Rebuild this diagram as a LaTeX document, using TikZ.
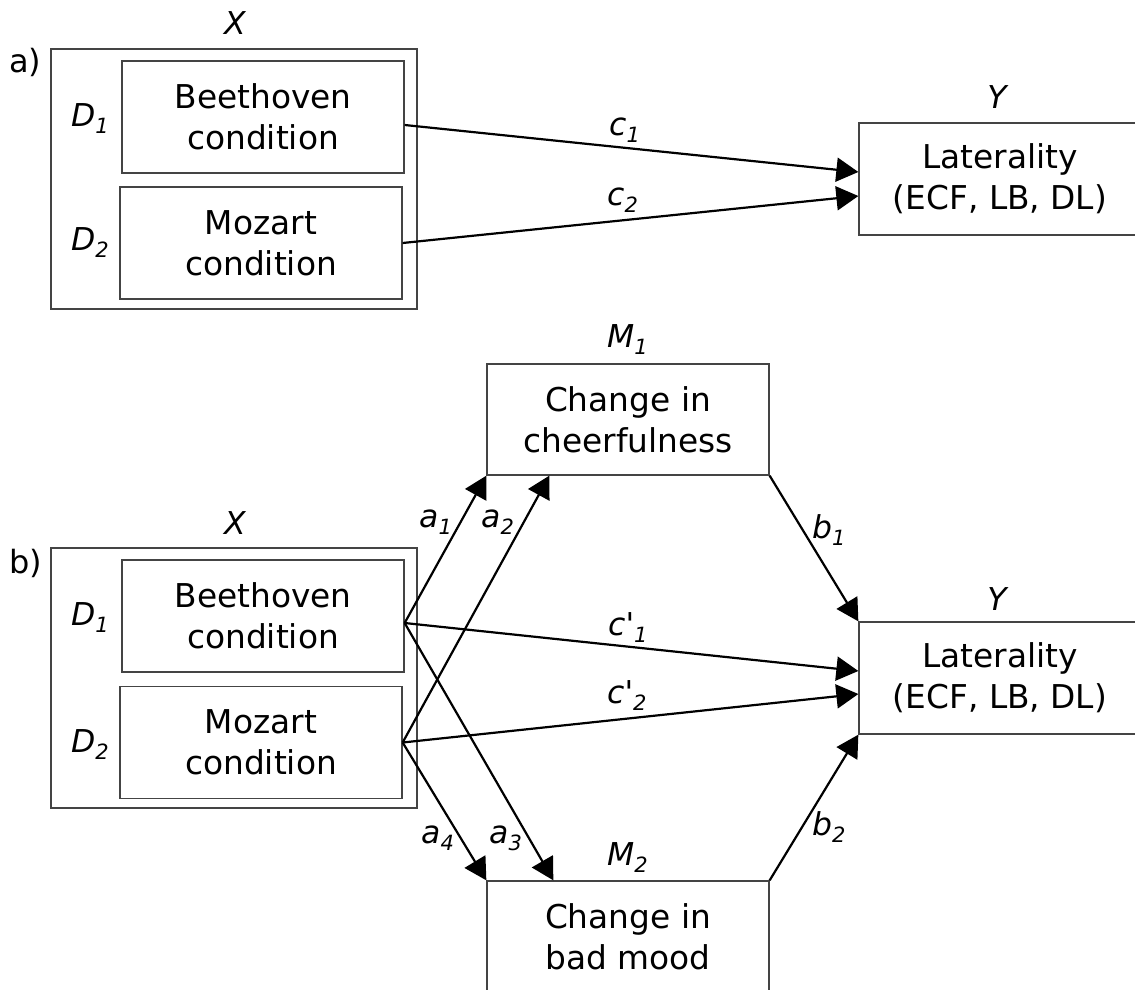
\documentclass[tikz,border=0pt]{standalone}
\usepackage{fontspec}
\setmainfont{DejaVu Sans}
\usetikzlibrary{arrows.meta,calc}
\definecolor{boxgray}{HTML}{444444}
\newcommand\lbl[2]{#1\raisebox{-7pt}{\fontsize{21}{21}\selectfont #2}}
\begin{document}
\begin{tikzpicture}[x=1pt,y=-1pt,
  box/.style={draw=boxgray, line width=1.3pt, minimum width=282pt, minimum height=112pt, align=center, inner sep=0pt, font=\fontsize{32.8}{41}\selectfont},
  frame/.style={draw=boxgray, line width=1.3pt, minimum width=366pt, minimum height=260pt, inner sep=0pt},
  lab/.style={anchor=base west, inner sep=0pt, font=\fontsize{31.5}{31.5}\selectfont\itshape},
  tag/.style={anchor=base west, inner sep=0pt, font=\fontsize{32}{32}\selectfont},
  arr/.style={line width=2.2pt, -{Triangle[length=22pt,width=24pt]}},
]
\useasboundingbox (0,0) rectangle (1135,990);
\clip (0,0) rectangle (1135,990);

% ---------- panel a ----------
\node[tag] (taga) at (9,73) {a)};
\node[frame] (Xa) at (234,179) {};
\node[box] (Ba) at (263,117) {Beethoven\\condition};
\node[box] (Ma) at (261,243) {Mozart\\condition};
\node[box] (Ya) at (1000,179) {Laterality\\(ECF, LB, DL)};
\node[lab, anchor=base] (XaL) at (235,35) {X};
\node[lab] (D1a) at (71,126) {\lbl{D}{1}};
\node[lab] (D2a) at (71,250) {\lbl{D}{2}};
\node[lab, anchor=base] (YaL) at (997,108) {Y};
\node[lab] (c1) at (609,135) {\lbl{c}{1}};
\node[lab] (c2) at (607,205) {\lbl{c}{2}};

\draw[arr] ($(Ba.east)+(0,8)$) -- ($(Ya.west)+(0,-7)$);
\draw[arr] (Ma.east) -- ($(Ya.west)+(0,17)$);

% ---------- panel b ----------
\node[tag] (tagb) at (9,573) {b)};
\node[frame] (Xb) at (234,678) {};
\node[box] (Bb) at (263,616) {Beethoven\\condition};
\node[box] (Mb) at (261,742.5) {Mozart\\condition};
\node[box, minimum height=111pt] (M1) at (628,419.5) {Change in\\cheerfulness};
\node[box] (M2) at (628,937) {Change in\\bad mood};
\node[box] (Yb) at (1000,678) {Laterality\\(ECF, LB, DL)};
\node[lab, anchor=base] (XbL) at (235,534) {X};
\node[lab] (D1b) at (71,625) {\lbl{D}{1}};
\node[lab] (D2b) at (71,752) {\lbl{D}{2}};
\node[lab, anchor=base] (YbL) at (997,610) {Y};
\node[lab] (M1L) at (607,347) {\lbl{M}{1}};
\node[lab] (M2L) at (607,865) {\lbl{M}{2}};
\node[lab] (a1) at (419,527) {\lbl{a}{1}};
\node[lab] (a2) at (481,527) {\lbl{a}{2}};
\node[lab] (a4) at (421,843) {\lbl{a}{4}};
\node[lab] (a3) at (489,843) {\lbl{a}{3}};
\node[lab] (b1) at (812,538) {\lbl{b}{1}};
\node[lab] (b2) at (812,835) {\lbl{b}{2}};
\node[lab] (cp1) at (608,635) {\lbl{c\textquotesingle}{1}};
\node[lab] (cp2) at (607,703) {\lbl{c\textquotesingle}{2}};

\coordinate (Bout) at ($(Bb.east)+(0,7)$);
\coordinate (Mout) at (Mb.east);
\draw[arr] (Bout) -- (M1.south west);
\draw[arr] (Mout) -- ($(M1.south west)+(63,0)$);
\draw[arr] (Bout) -- ($(M2.north west)+(67,0)$);
\draw[arr] (Mout) -- (M2.north west);
\draw[arr] (Bout) -- ($(Yb.west)+(0,-7)$);
\draw[arr] (Mout) -- ($(Yb.west)+(0,16)$);
\draw[arr] (M1.south east) -- (Yb.north west);
\draw[arr] (M2.north east) -- (Yb.south west);
\end{tikzpicture}
\end{document}
